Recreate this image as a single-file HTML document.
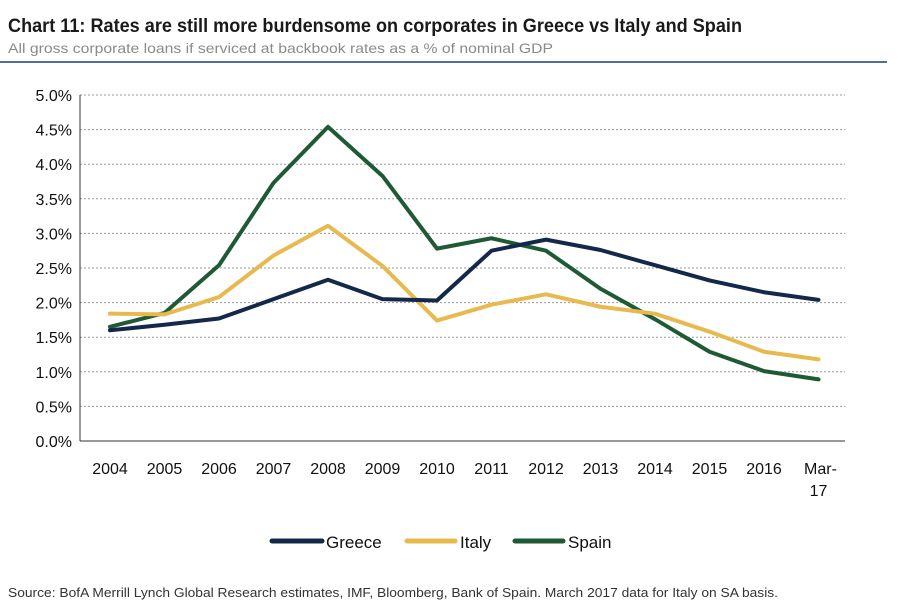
<!DOCTYPE html>
<html><head><meta charset="utf-8"><style>
body{margin:0;background:#fff;font-family:"Liberation Sans",sans-serif;}
svg{display:block}
</style></head><body>
<svg id="chart" width="905" height="609" xmlns="http://www.w3.org/2000/svg">
<text x="8" y="32" font-size="19" font-weight="bold" fill="#1a1a1a" textLength="734" lengthAdjust="spacingAndGlyphs">Chart 11: Rates are still more burdensome on corporates in Greece vs Italy and Spain</text>
<text x="8" y="53" font-size="14" fill="#8a8a8a" textLength="545" lengthAdjust="spacingAndGlyphs">All gross corporate loans if serviced at backbook rates as a % of nominal GDP</text>
<rect x="0" y="61" width="887" height="2" fill="#4f6f94"/>
<g id="grid"></g><g id="yt"></g><g id="xt"></g><g id="lines"></g>
<g>
<line x1="272" y1="541" x2="322" y2="541" stroke="#13284a" stroke-width="5" stroke-linecap="round"/>
<text x="326" y="548" font-size="17" fill="#111">Greece</text>
<line x1="407" y1="541" x2="455" y2="541" stroke="#e8b94f" stroke-width="5" stroke-linecap="round"/>
<text x="460" y="548" font-size="17" fill="#111">Italy</text>
<line x1="515" y1="541" x2="563" y2="541" stroke="#1f5a35" stroke-width="5" stroke-linecap="round"/>
<text x="568" y="548" font-size="17" fill="#111">Spain</text>
</g>
<text x="8" y="597" font-size="13" fill="#333" textLength="770" lengthAdjust="spacingAndGlyphs">Source: BofA Merrill Lynch Global Research estimates, IMF, Bloomberg, Bank of Spain. March 2017 data for Italy on SA basis.</text>
</svg>
<script>
const categories=["2004","2005","2006","2007","2008","2009","2010","2011","2012","2013","2014","2015","2016","Mar-17"];
const greece=[1.60,1.68,1.77,2.05,2.33,2.05,2.03,2.75,2.91,2.76,2.54,2.32,2.15,2.04];
const italy=[1.84,1.83,2.08,2.68,3.11,2.53,1.74,1.97,2.12,1.94,1.84,1.58,1.29,1.18];
const spain=[1.65,1.85,2.54,3.73,4.54,3.83,2.78,2.93,2.75,2.20,1.76,1.29,1.01,0.89];
const yTicks=[0,0.5,1,1.5,2,2.5,3,3.5,4,4.5,5];
const NS="http://www.w3.org/2000/svg";
const x=i=>110+i*54.5;
const y=v=>441-v*69.2;
function mk(t,a,p){const e=document.createElementNS(NS,t);for(const k in a)e.setAttribute(k,a[k]);p.appendChild(e);return e;}
const grid=document.getElementById('grid'),yt=document.getElementById('yt'),xt=document.getElementById('xt'),lines=document.getElementById('lines');
yTicks.forEach(v=>{
 if(v>0){const g=mk('line',{x1:80,x2:845,y1:y(v),y2:y(v),stroke:'#999','stroke-width':1,'stroke-dasharray':'2,2'},grid);
 
 }
 const t=mk('text',{x:72,y:y(v)+6,'font-size':16,'text-anchor':'end',fill:'#111'},yt);
 t.textContent=v.toFixed(1)+'%';
 
 
});
const ax=mk('line',{x1:80,x2:80,y1:95,y2:441,stroke:'#333','stroke-width':1},grid);


const bx=mk('line',{x1:80,x2:845,y1:441,y2:441,stroke:'#333','stroke-width':1},grid);


categories.forEach((c,i)=>{
 const t=mk('text',{x:x(i),y:474,'font-size':16,'text-anchor':'middle',fill:'#111'},xt);
 
 
 if(c.indexOf('-')>0){const p=c.split('-');
  const a=mk('tspan',{x:x(i)+2},t);a.textContent=p[0]+'-';
  const b=mk('tspan',{x:x(i),dy:22},t);b.textContent=p[1];}
 else t.textContent=c;
});
[[spain,'#1f5a35','spain-line'],[italy,'#e8b94f','italy-line'],[greece,'#13284a','greece-line']].forEach(([d,col,n])=>{
 const p=mk('polyline',{points:d.map((v,i)=>x(i)+','+y(v)).join(' '),fill:'none',stroke:col,'stroke-width':4,'stroke-linejoin':'round','stroke-linecap':'round'},lines);
 
 
});
</script>
</body></html>
